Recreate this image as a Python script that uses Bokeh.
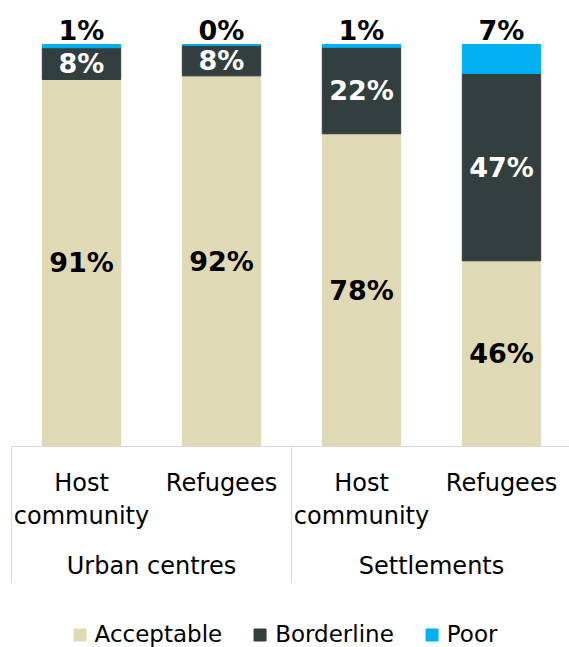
import math
from bokeh.plotting import figure
from bokeh.models import Range1d, Legend, LegendItem, ColumnDataSource
from bokeh.core.properties import value
from bokeh.embed import file_html
from bokeh.resources import INLINE

# ---- data ----
groups = ["Urban centres", "Urban centres", "Settlements", "Settlements"]
subgroups = ["Host\ncommunity", "Refugees", "Host\ncommunity", "Refugees"]
acceptable = [91.3, 92.2, 77.8, 46.2]
borderline = [7.9, 7.6, 21.5, 46.6]
poor = [0.8, 0.2, 0.7, 7.2]
series = ["Acceptable", "Borderline", "Poor"]
colors = ["#E0D9B5", "#323F3E", "#00B0F0"]

FONT = "DejaVu Sans"
GRID = "#D9D9D9"

x = list(range(len(subgroups)))
src = ColumnDataSource(dict(
    x=x,
    acceptable=acceptable,
    borderline=borderline,
    poor=poor,
    sub=subgroups,
    acc_y=[a / 2 for a in acceptable],
    bor_y=[a + b / 2 for a, b in zip(acceptable, borderline)],
    top_y=[a + b + c for a, b, c in zip(acceptable, borderline, poor)],
    acc_lbl=[f"{round(v)}%" for v in acceptable],
    bor_lbl=[f"{round(v)}%" for v in borderline],
    poor_lbl=[f"{round(v)}%" for v in poor],
))

# group names, their centre positions and the boundaries between them
grp_names, grp_x = [], []
for g in groups:
    if g not in grp_names:
        grp_names.append(g)
for g in grp_names:
    idx = [i for i, gg in enumerate(groups) if gg == g]
    grp_x.append(sum(idx) / len(idx))
bounds = [-0.5]
for i in range(1, len(groups)):
    if groups[i] != groups[i - 1]:
        bounds.append(i - 0.5)
bounds.append(len(groups) - 0.5)

p = figure(width=569, height=647,
           x_range=Range1d(-0.5786, 3.4857), y_range=Range1d(-50.0, 110.95),
           x_axis_type=None, y_axis_type=None,
           output_backend="svg", toolbar_location=None,
           min_border_left=0, min_border_right=0, min_border_top=0,
           min_border_bottom=0)
p.outline_line_color = None
p.background_fill_color = "white"

rs = p.vbar_stack(["acceptable", "borderline", "poor"], x="x", width=0.56,
                  color=colors, source=src)

common = dict(source=src, text_font=value(FONT), text_font_style="bold",
              text_font_size="27px", text_align="center",
              text_baseline="middle")
p.text(x="x", y="acc_y", text="acc_lbl", text_color="black", **common)
p.text(x="x", y="bor_y", text="bor_lbl", text_color="white", **common)
p.text(x="x", y="top_y", text="poor_lbl", y_offset=-14,
       text_color="black", **common)

# category axis: base line, separators, sub-labels, group labels
p.ray(x=[bounds[0]], y=[0], length=0, angle=0, line_color=GRID, line_width=1)
p.ray(x=bounds, y=[0] * len(bounds), length=136, length_units="screen",
      angle=-math.pi / 2, line_color=GRID, line_width=1)
p.text(x="x", y=0, text="sub", source=src, y_offset=22,
       text_font=value(FONT), text_font_size="24px", text_align="center",
       text_baseline="top", text_line_height=1.2, text_color="black")
p.text(x=grp_x, y=[0] * len(grp_x), text=grp_names, y_offset=119,
       text_font=value(FONT), text_font_size="24px", text_align="center",
       text_baseline="middle", text_color="black")

legend = Legend(items=[LegendItem(label=s, renderers=[r]) for s, r in zip(series, rs)],
                orientation="horizontal", location="bottom_center",
                border_line_color=None, background_fill_alpha=0,
                label_text_font=FONT, label_text_font_size="23px",
                label_text_color="black",
                glyph_width=15, glyph_height=15, spacing=30, label_standoff=8,
                padding=0, margin=0)
p.add_layout(legend)

open("out.html", "w").write(file_html(p, INLINE))
